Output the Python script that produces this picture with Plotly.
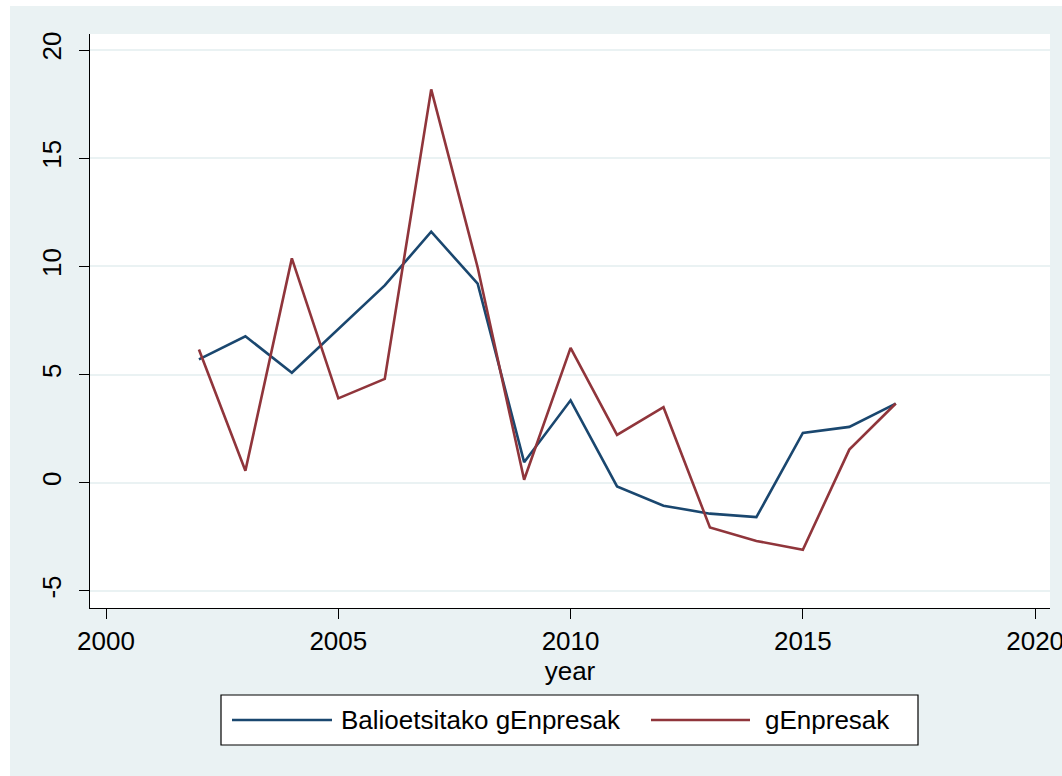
import plotly.graph_objects as go

# data
years = list(range(2002, 2018))
balioetsitako = [5.7, 6.77, 5.08, 7.12, 9.12, 11.6, 9.2, 0.95, 3.81, -0.17, -1.06, -1.43, -1.59, 2.3, 2.58, 3.66]
genpresak = [6.16, 0.55, 10.37, 3.9, 4.8, 18.18, 9.95, 0.14, 6.23, 2.21, 3.49, -2.07, -2.69, -3.1, 1.53, 3.66]
series_names = ["Balioetsitako gEnpresak", "gEnpresak"]

x_ticks = [2000, 2005, 2010, 2015, 2020]
y_ticks = [-5, 0, 5, 10, 15, 20]
y_labels = ["-5", "0", "5", "10", "15", "20"]

navy = "#1a476f"
maroon = "#90353b"
region = "#eaf2f3"
font_family = "Liberation Sans, Arial, sans-serif"
lw = 2.6

W, H = 1062, 776
L, R, T, B = 90, 12, 34, 168
pw, ph = W - L - R, H - T - B


def px_x(p):
    return (p - L) / pw


def px_y(p):
    return (H - B - p) / ph


fig = go.Figure()
fig.add_trace(go.Scatter(x=years, y=balioetsitako, mode="lines", name=series_names[0],
                         line=dict(color=navy, width=lw), showlegend=False))
fig.add_trace(go.Scatter(x=years, y=genpresak, mode="lines", name=series_names[1],
                         line=dict(color=maroon, width=lw), showlegend=False))

shapes = [
    # grey graph region with a white strip at left/top
    dict(type="rect", xref="paper", yref="paper", layer="below",
         x0=px_x(10), x1=px_x(W), y0=px_y(H), y1=px_y(6),
         fillcolor=region, line=dict(width=0)),
    dict(type="rect", xref="paper", yref="paper", layer="below",
         x0=0, x1=1, y0=0, y1=1, fillcolor="white", line=dict(width=0)),
    # legend box
    dict(type="rect", xref="paper", yref="paper",
         x0=px_x(221), x1=px_x(918), y0=px_y(745), y1=px_y(695),
         fillcolor="white", line=dict(color="black", width=1.2)),
    dict(type="line", xref="paper", yref="paper",
         x0=px_x(232), x1=px_x(332), y0=px_y(720), y1=px_y(720),
         line=dict(color=navy, width=lw)),
    dict(type="line", xref="paper", yref="paper",
         x0=px_x(651), x1=px_x(750), y0=px_y(720), y1=px_y(720),
         line=dict(color=maroon, width=lw)),
]

annotations = [
    dict(text=series_names[0], xref="paper", yref="paper", x=px_x(339), y=px_y(720),
         xanchor="left", yanchor="middle", showarrow=False,
         font=dict(size=26, color="black", family=font_family)),
    dict(text=series_names[1], xref="paper", yref="paper", x=px_x(763), y=px_y(720),
         xanchor="left", yanchor="middle", showarrow=False,
         font=dict(size=26, color="black", family=font_family)),
]

fig.update_layout(
    width=W, height=H,
    margin=dict(l=L, r=R, t=T, b=B, autoexpand=False),
    paper_bgcolor="white",
    plot_bgcolor="white",
    font=dict(family=font_family, size=26, color="black"),
    shapes=shapes,
    annotations=annotations,
    showlegend=False,
)

fig.update_xaxes(
    range=[1999.655, 2020.32], tickvals=x_ticks, showgrid=False, zeroline=False,
    automargin=False, ticklabeloverflow="allow",
    showline=True, linecolor="black", linewidth=1.2,
    ticks="outside", ticklen=10, tickcolor="black", tickwidth=1.2,
    ticklabelstandoff=0,
    title=dict(text="year", standoff=0, font=dict(size=26)),
)
fig.update_yaxes(
    range=[-5.79, 20.74], tickvals=y_ticks, ticktext=y_labels,
    showgrid=True, gridcolor=region, gridwidth=1.6,
    zeroline=False, automargin=False, showline=True, linecolor="black", linewidth=1.2,
    ticks="outside", ticklen=10, tickcolor="black", tickwidth=1.2,
    tickangle=-90, ticklabelstandoff=8,
)

# the page's default body margin would push the figure 8px right and down
fig.write_html("out.html", config={"displayModeBar": False},
               post_script="document.body.style.margin = '0';")
